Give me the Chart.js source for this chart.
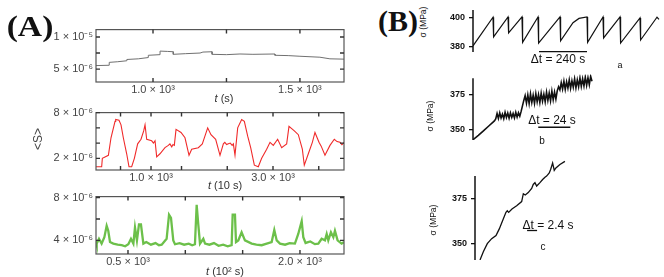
<!DOCTYPE html>
<html>
<head>
<meta charset="utf-8">
<script src="https://cdn.jsdelivr.net/npm/chart.js@4.4.1/dist/chart.umd.min.js"></script>
<style>
  body { margin: 0; width: 664px; height: 277px; background: #fff; position: relative; overflow: hidden;
         font-family: "Liberation Sans", Arial, sans-serif; }
  canvas { position: absolute; }
  .t { position: absolute; white-space: nowrap; line-height: 1; transform: translate(-50%, -50%); }
  .v { transform: translate(-50%, -50%) rotate(-90deg); }
  .big { font-family: "Liberation Serif", "Times New Roman", serif; font-weight: bold; font-size: 30px; color: #111; }
  .ax { font-size: 11px; color: #333; }
  .bs { font-size: 8.5px; color: #111; }
  .dt { font-size: 12px; color: #111; }
</style>
</head>
<body>
<canvas id="a1" width="350" height="82" style="left:0;top:20px"></canvas>
<canvas id="a2" width="350" height="82" style="left:0;top:103px"></canvas>
<canvas id="a3" width="350" height="82" style="left:0;top:187px"></canvas>
<canvas id="b1" width="224" height="75" style="left:440px;top:0"></canvas>
<canvas id="b2" width="224" height="90" style="left:440px;top:65px"></canvas>
<canvas id="b3" width="224" height="125" style="left:440px;top:150px"></canvas>

<div class="t big" style="left:30px;top:26px;transform:translate(-50%,-50%) scaleX(1.12)">(A)</div>
<div class="t big" style="left:398px;top:21px">(B)</div>
<div class="t v" style="left:38px;top:139px;font-size:12px;color:#444">&lt;S&gt;</div>
<div class="t ax" style="left:224px;top:98px"><i>t</i> (s)</div>
<div class="t ax" style="left:225px;top:185px"><i>t</i> (10 s)</div>
<div class="t ax" style="left:225px;top:271px"><i>t</i> (10² s)</div>

<div class="t v bs" style="left:423px;top:22px">σ (MPa)</div>
<div class="t v bs" style="left:430px;top:116px">σ (MPa)</div>
<div class="t v bs" style="left:433px;top:220px">σ (MPa)</div>
<div class="t dt" style="left:558px;top:59px">Δt = 240 s</div>
<div class="t dt" style="left:552px;top:120px">Δt = 24 s</div>
<div class="t dt" style="left:548px;top:225px">Δt = 2.4 s</div>
<div class="t bs" style="left:620px;top:65px;font-size:9px">a</div>
<div class="t bs" style="left:542px;top:141px;font-size:10px">b</div>
<div class="t bs" style="left:543px;top:247px;font-size:10px">c</div>

<script>
// (A) <S> traces, [t, value in units of 1e-6]
const traceA1 = [[806,5.55],[851,5.6],[851,6.05],[880,6.15],[911,6.3],[911,6.5],[950,6.6],[984,6.8],[984,7.15],
  [1024,7.25],[1024,7.8],[1050,7.75],[1069,7.7],[1069,7.3],[1110,7.4],[1160,7.5],[1170,7.65],[1201,7.7],[1201,7.3],
  [1250,7.25],[1296,7.35],[1340,7.3],[1415,7.35],[1415,7.15],[1460,7.1],[1500,7.0],[1568,6.85],[1602,6.6],[1650,6.55]];
const traceA2 = [[82,0.9],[191,0.9],[202,2.0],[301,2.4],[344,4.7],[410,6.85],[421,7.1],[475,7.0],[508,6.4],[546,4.7],
  [601,2.6],[639,0.9],[683,0.9],[727,2.0],[781,3.9],[836,4.5],[880,5.6],[902,6.4],[929,4.5],[1011,4.3],[1040,4.0],[1066,4.3],
  [1093,2.2],[1147,2.6],[1229,3.4],[1284,3.7],[1310,3.9],[1340,3.5],[1360,3.8],[1382,3.7],[1410,5.8],[1492,5.4],[1557,4.7],
  [1623,2.4],[1667,3.2],[1776,3.4],[1841,3.9],[1929,6.0],[1983,5.1],[2060,4.5],[2131,2.4],[2186,3.9],[2210,4.1],[2240,3.8],
  [2268,3.9],[2300,4.0],[2330,3.7],[2350,3.9],[2377,2.4],
  [2421,6.0],[2486,7.1],[2530,6.85],[2585,4.9],[2634,3.4],[2694,1.1],[2759,0.9],[2814,2.0],[2896,3.2],[2951,4.1],
  [3005,3.7],[3076,4.5],[3142,3.4],[3224,3.9],[3262,6.2],[3350,5.6],[3415,5.1],[3481,3.2],[3513,1.1],[3579,2.6],
  [3645,4.1],[3688,5.4],[3754,4.1],[3790,3.6],[3852,2.4],[3934,3.7],[4005,4.5],[4050,4.2],[4098,4.1],[4130,3.8],[4169,4.1]];
const traceA3 = [[221,4.0],[227,3.7],[247,4.15],[270,3.7],[294,4.3],[314,5.36],[328,4.9],[343,3.85],[372,3.7],[410,3.6],
  [445,3.55],[475,3.45],[503,3.64],[526,4.15],[547,3.7],[561,5.2],[578,4.0],[596,5.5],[613,5.5],[634,3.7],[660,3.85],
  [700,3.6],[740,3.75],[770,3.55],[794,3.6],[837,4.15],[858,6.4],[875,6.1],[895,4.0],[910,3.64],[950,3.75],[990,3.6],
  [1030,3.7],[1060,3.55],[1084,3.64],[1099,7.33],[1113,5.5],[1128,3.7],[1157,4.15],[1172,3.7],[1210,3.6],[1250,3.75],
  [1290,3.5],[1330,3.6],[1370,3.45],[1404,3.55],[1413,6.4],[1433,6.4],[1442,3.85],[1462,4.0],[1491,4.76],[1520,4.0],
  [1579,3.7],[1620,3.6],[1666,3.55],[1710,3.7],[1753,3.85],[1776,4.97],[1797,4.0],[1826,3.7],[1870,3.6],[1910,3.75],
  [1956,3.7],[1985,4.6],[2015,5.8],[2029,4.3],[2049,3.76],[2090,3.9],[2130,3.65],[2160,3.7],[2189,4.15],[2218,4.0],
  [2233,4.6],[2247,4.0],[2270,4.76],[2291,4.3],[2305,4.9],[2328,4.0],[2363,3.7],[2384,3.85]];

const ticksA1x = [1000, 1250, 1500], labelsA1x = ['1.0 × 10³', '', '1.5 × 10³'];
const ticksA1y = [5, 7.5, 10], labelsA1y = ['5 × 10⁻⁶', '', '1 × 10⁻⁵'];
const ticksA2x = [500, 1000, 1500, 2250, 3000, 3750], labelsA2x = ['', '1.0 × 10³', '', '', '3.0 × 10³', ''];
const ticksA2y = [2, 4, 6, 8], labelsA2y = ['2 × 10⁻⁶', '', '', '8 × 10⁻⁶'];
const ticksA3x = [500, 1000, 1500, 2000], labelsA3x = ['0.5 × 10³', '', '', '2.0 × 10³'];
const ticksA3y = [4, 6, 8], labelsA3y = ['4 × 10⁻⁶', '', '8 × 10⁻⁶'];

// (B) stress traces, [t in s, sigma in MPa]
const traceB1 = [[0,380.5],[100,400.3],[103,386.7],[175,400.5],[178,389.5],[245,400.5],[248,383],[325,400.5],[328,382.5],
  [435,400.5],[438,384],[500,396.5],[530,399.5],[570,400.5],[573,383],[650,400.5],[653,386],[735,400.5],[738,382.5],
  [835,399.8],[838,384.6],[910,398.4],[920,400.3],[930,398.8]];
const traceB2 = [[0,342.3],[4,345.5],[8,349],[12,352.5],[16,356],[17,357.5],
  [18,361.5],[19,357.8],[20,362],[21,358.2],[22,361],[23,357.6],[24,362.3],[25,358.5],[26,361.8],[27,358],[28,362],
  [29,358.6],[30,361.5],[31,358.2],[32,362.4],[33,358.8],[34,362],[35,359.5],[36,363],[37,367],[38,371],[39,374.5],
  [40,369],[41,375],[42,368.6],[43,375.8],[44,369.5],[45,374.8],[46,368.8],[47,376],[48,370],[49,375.2],[50,369.4],
  [51,376.4],[52,370.5],[53,375.6],[54,370],[55,377],[56,371],[57,376.5],[58,370.6],[59,377.8],[60,371.5],[61,377.2],
  [62,372],[63,378],[64,381],[65,378.6],[66,384],[67,379.2],[68,385],[69,379],[70,384.6],[71,380],[72,386],[73,379.8],
  [74,385.4],[75,380.6],[76,386.8],[77,380.2],[78,386],[79,381],[80,387.4],[81,381.2],[82,386.8],[83,381.6],[84,388],
  [85,382],[86,387.6],[87,382.4],[88,388.6],[89,385]];
const traceB3 = [[1.2,340.6],[2.0,345.2],[2.95,349.8],[4.0,352.6],[5.04,354.4],[5.83,358.1],[6.64,362.8],[7.43,367.4],
  [7.75,368.3],[8.08,367.4],[8.87,369.3],[10.0,371.1],[11.2,373.5],[11.6,377.9],[12.06,377.2],[12.78,378.5],[13.6,380.9],
  [13.98,383.1],[14.39,384.1],[14.8,382.2],[15.59,384.1],[16.23,385.9],[16.79,387.2],[17.19,387.8],[17.82,389.6],
  [18.15,391.5],[18.63,395.2],[19.02,391],[19.42,392.4],[20.38,394.3],[21.58,396.1]];

const ticksB1 = [380, 400], ticksB2 = [350, 375], ticksB3 = [350, 375];
const barB1 = [330, 570, 376.5], barB2 = [48.8, 72.8, 351.4], barB3 = [12.5, 14.9, 357.2];

const frame = {
  id: 'frame',
  afterDraw(chart, args, o) {
    const {ctx, chartArea: a, scales: {x, y}} = chart;
    ctx.save();
    if (o.box) {
      ctx.strokeStyle = '#555'; ctx.lineWidth = 1.2;
      ctx.strokeRect(a.left, a.top, a.right - a.left, a.bottom - a.top);
      ctx.strokeStyle = '#333'; ctx.lineWidth = 1.4;
      ctx.beginPath();
      x.ticks.forEach(t => {
        const p = x.getPixelForValue(t.value);
        ctx.moveTo(p, a.bottom); ctx.lineTo(p, a.bottom - 4);
        ctx.moveTo(p, a.top); ctx.lineTo(p, a.top + 4);
      });
      y.ticks.forEach(t => {
        const p = y.getPixelForValue(t.value);
        ctx.moveTo(a.left, p); ctx.lineTo(a.left + 4, p);
        ctx.moveTo(a.right, p); ctx.lineTo(a.right - 4, p);
      });
      ctx.stroke();
    }
    if (o.axis) {
      ctx.strokeStyle = '#111'; ctx.lineWidth = 1.5;
      ctx.beginPath();
      ctx.moveTo(a.left, y.getPixelForValue(o.axis[0]));
      ctx.lineTo(a.left, y.getPixelForValue(o.axis[1]));
      ctx.stroke();
    }
    if (o.bar) {
      ctx.strokeStyle = '#111'; ctx.lineWidth = 1.3;
      const py = y.getPixelForValue(o.bar[2]);
      ctx.beginPath();
      ctx.moveTo(x.getPixelForValue(o.bar[0]), py);
      ctx.lineTo(x.getPixelForValue(o.bar[1]), py);
      ctx.stroke();
    }
    ctx.restore();
  }
};
Chart.register(frame);

const tickFont = { family: '"Liberation Sans", Arial, sans-serif', size: 11 };

function boxChart(id, pts, color, lw, xr, yr, xt, xl, yt, yl, padTop, xAxisH) {
  return new Chart(document.getElementById(id), {
    type: 'line',
    data: { datasets: [{ data: pts.map(p => ({x: p[0], y: p[1]})), borderColor: color, borderWidth: lw,
      pointRadius: 0, tension: 0, fill: false }] },
    options: {
      responsive: false, animation: false,
      layout: { padding: { top: padTop, right: 6, left: 0, bottom: 0 } },
      plugins: { legend: { display: false }, tooltip: { enabled: false }, frame: { box: true } },
      scales: {
        x: { type: 'linear', min: xr[0], max: xr[1], bounds: 'data',
          afterBuildTicks: s => { s.ticks = xt.map(v => ({value: v})); },
          afterFit: s => { s.height = xAxisH; },
          grid: { display: false, drawTicks: false }, border: { display: false },
          ticks: { callback: (v, i) => xl[i], autoSkip: false, maxRotation: 0, padding: 1, color: '#444', font: tickFont } },
        y: { type: 'linear', min: yr[0], max: yr[1], bounds: 'data',
          afterBuildTicks: s => { s.ticks = yt.map(v => ({value: v})); },
          afterFit: s => { s.width = 96; },
          grid: { display: false, drawTicks: false }, border: { display: false },
          ticks: { callback: (v, i) => yl[i], autoSkip: false, padding: 3, color: '#444', font: tickFont } }
      }
    }
  });
}

function sigmaChart(id, pts, lw, xr, yr, yt, axis, bar, yAxisW, pad) {
  return new Chart(document.getElementById(id), {
    type: 'line',
    data: { datasets: [{ data: pts.map(p => ({x: p[0], y: p[1]})), borderColor: '#111', borderWidth: lw,
      pointRadius: 0, tension: 0, fill: false }] },
    options: {
      responsive: false, animation: false,
      layout: { padding: pad },
      plugins: { legend: { display: false }, tooltip: { enabled: false }, frame: { axis: axis, bar: bar } },
      scales: {
        x: { type: 'linear', min: xr[0], max: xr[1], display: false },
        y: { type: 'linear', min: yr[0], max: yr[1], bounds: 'data',
          afterBuildTicks: s => { s.ticks = yt.map(v => ({value: v})); },
          afterFit: s => { s.width = yAxisW; },
          grid: { drawOnChartArea: false, drawTicks: true, tickLength: 4, color: '#111', lineWidth: 1.3 },
          border: { display: false },
          ticks: { padding: 4, color: '#111', font: { family: '"Liberation Sans", Arial, sans-serif', size: 9, weight: 'bold' } } }
      }
    }
  });
}

boxChart('a1', traceA1, '#707070', 1, [806, 1650], [3, 11.14], ticksA1x, labelsA1x, ticksA1y, labelsA1y, 5, 20);
boxChart('a2', traceA2, '#f02a2a', 1.1, [98, 4164], [0.47, 8], ticksA2x, labelsA2x, ticksA2y, labelsA2y, 8, 15);
boxChart('a3', traceA3, '#6cc04a', 2.3, [221, 2384], [2.73, 8.09], ticksA3x, labelsA3x, ticksA3y, labelsA3y, 8, 15);

sigmaChart('b1', traceB1, 1.2, [0, 945], [376.3, 405.3], ticksB1, [376.3, 405.3], barB1, 33,
  { top: 10, bottom: 23, left: 0, right: 2 });
sigmaChart('b2', traceB2, 1.6, [0, 95], [342.1, 390], ticksB2, [342.1, 387.1], barB2, 33,
  { top: 8, bottom: 15, left: 0, right: 64 });
sigmaChart('b3', traceB3, 1.3, [0, 24], [340.6, 397.2], ticksB3, [340.6, 387.8], barB3, 35,
  { top: 8, bottom: 15, left: 0, right: 89 });
</script>
</body>
</html>
